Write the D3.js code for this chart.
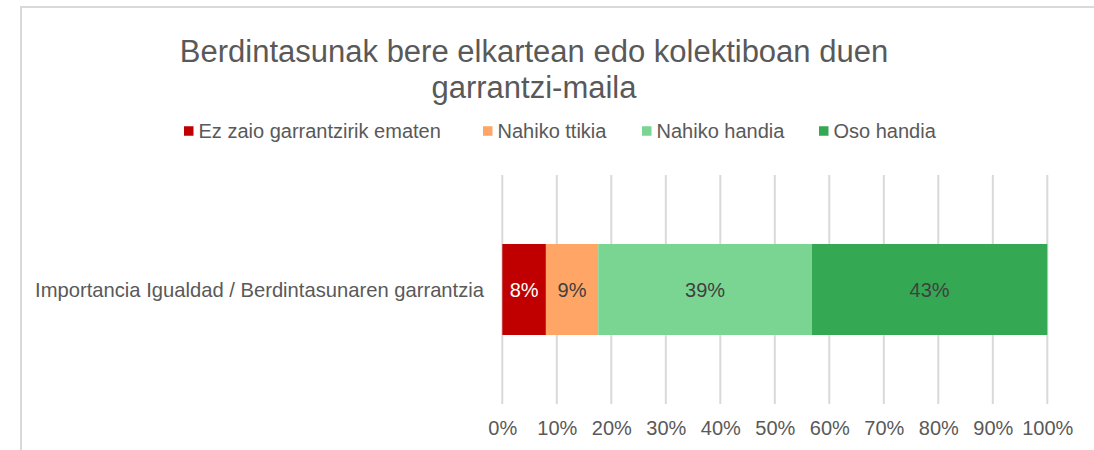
<!DOCTYPE html>
<html>
<head>
<meta charset="utf-8">
<script src="https://cdn.jsdelivr.net/npm/d3@7"></script>
<style>
  html, body { margin: 0; padding: 0; background: #fff; }
  svg { display: block; }
  text { font-family: "Liberation Sans", Arial, sans-serif; }
</style>
</head>
<body>
<svg id="chart" width="1094" height="450"></svg>
<script>
const titleLines = ["Berdintasunak bere elkartean edo kolektiboan duen", "garrantzi-maila"];
const categories = ["Importancia Igualdad / Berdintasunaren garrantzia"];
const seriesNames = ["Ez zaio garrantzirik ematen", "Nahiko ttikia", "Nahiko handia", "Oso handia"];
const seriesValues = [8.0, 9.6, 39.2, 43.2];
const seriesLabels = ["8%", "9%", "39%", "43%"];
const seriesColors = ["#c00000", "#ffa666", "#7bd592", "#35a853"];
const labelColors = ["#ffffff", "#404040", "#404040", "#404040"];
const tickValues = [0, 10, 20, 30, 40, 50, 60, 70, 80, 90, 100];
const tickLabels = ["0%", "10%", "20%", "30%", "40%", "50%", "60%", "70%", "80%", "90%", "100%"];

const svg = d3.select("#chart");
const textColor = "#595959";

// chart border
svg.append("path")
  .attr("d", "M21,450 V7 H1094")
  .attr("fill", "none").attr("stroke", "#d9d9d9").attr("stroke-width", 2);

// title
svg.append("g").selectAll("text").data(titleLines).join("text")
  .attr("x", 534).attr("y", (d, i) => 62 + i * 36)
  .attr("text-anchor", "middle")
  .attr("font-size", 31).attr("fill", textColor)
  .text(d => d);

// scales
const x = d3.scaleLinear().domain([0, 100]).range([502.3, 1047.3]);
const y = d3.scaleBand().domain(categories).range([244, 335]).padding(0);

// gridlines
svg.append("g").selectAll("line").data(tickValues).join("line")
  .attr("x1", d => x(d)).attr("x2", d => x(d))
  .attr("y1", 175).attr("y2", 404)
  .attr("stroke", "#d9d9d9").attr("stroke-width", 2);

// stacked segments
const starts = seriesValues.map((v, i) => d3.sum(seriesValues.slice(0, i)));
const segs = seriesValues.map((v, i) => ({ name: seriesNames[i], v, s: starts[i], color: seriesColors[i], label: seriesLabels[i], lc: labelColors[i] }));
categories.forEach(cat => {
  const g = svg.append("g");
  g.selectAll("rect").data(segs).join("rect")
    .attr("x", d => x(d.s)).attr("width", d => x(d.s + d.v) - x(d.s))
    .attr("y", y(cat)).attr("height", y.bandwidth())
    .attr("fill", d => d.color);
  g.selectAll("text").data(segs).join("text")
    .attr("x", d => x(d.s + d.v / 2)).attr("y", y(cat) + y.bandwidth() / 2)
    .attr("dy", "0.35em").attr("text-anchor", "middle")
    .attr("font-size", 20).attr("fill", d => d.lc)
    .text(d => d.label);
});

// category axis labels
svg.append("g").selectAll("text").data(categories).join("text")
  .attr("x", 484).attr("y", d => y(d) + y.bandwidth() / 2)
  .attr("dy", "0.35em").attr("text-anchor", "end")
  .attr("font-size", 20.2).attr("fill", textColor)
  .text(d => d);

// x axis tick labels
const xAxis = d3.axisBottom(x).tickValues(tickValues).tickFormat((d, i) => tickLabels[i]).tickSize(0).tickPadding(0);
const ax = svg.append("g").attr("transform", "translate(0,421)").call(xAxis);
ax.select(".domain").remove();
ax.selectAll("text").attr("font-size", 20).attr("fill", textColor)
  .attr("font-family", "'Liberation Sans', Arial, sans-serif");

// legend
const legendX = [184, 483, 642, 819];
const lg = svg.append("g").selectAll("g").data(seriesNames).join("g")
  .attr("transform", (d, i) => `translate(${legendX[i]},131)`);
lg.append("rect").attr("x", 0).attr("y", -4.75).attr("width", 9.5).attr("height", 9.5)
  .attr("fill", (d, i) => seriesColors[i]);
lg.append("text").attr("x", 14.5).attr("dy", "0.35em")
  .attr("font-size", 20).attr("fill", textColor).text(d => d);
</script>
</body>
</html>
